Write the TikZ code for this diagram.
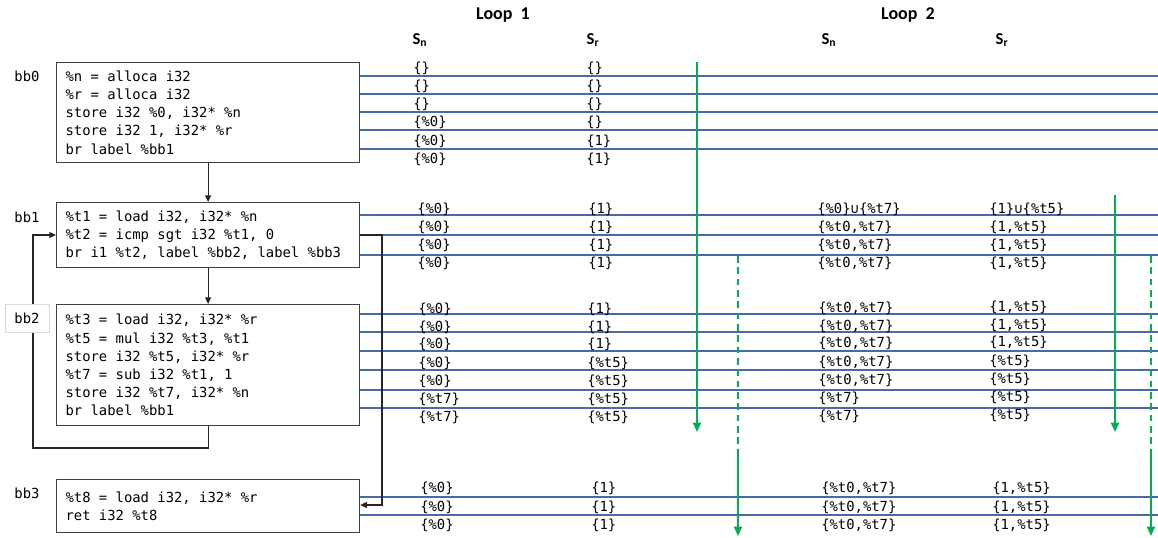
\documentclass[tikz,border=0pt]{standalone}
\usepackage{fontspec}
\setmainfont{Carlito}
\setsansfont{Carlito}
\newfontfamily\irmono{DejaVu Sans Mono}[WordSpace={1,0,0}]
\usetikzlibrary{positioning,arrows.meta,calc}
\definecolor{irblue}{RGB}{72,106,170}
\definecolor{irgreen}{RGB}{0,176,80}
\definecolor{irframe}{RGB}{60,64,72}
\newcommand{\ircode}{\irmono\fontsize{10.4}{13.6}\selectfont}
\newcommand{\irhead}{\sffamily\bfseries\fontsize{13.5}{15}\selectfont}
\newcommand{\irsub}{\sffamily\bfseries\fontsize{12.5}{14}\selectfont}
\newcommand{\irset}[1]{\{#1\}}
\tikzset{
  irbox/.style={draw=irframe,line width=0.9pt,anchor=north west,minimum width=227.25pt,
    text width=213.75pt,inner xsep=6.75pt,inner ysep=2pt,align=left,font=\ircode,
    execute at begin node={\spaceskip=0pt\xspaceskip=0pt\relax}},
  bblab/.style={font=\ircode,inner sep=1pt},
  setlab/.style={font=\ircode,anchor=west,inner sep=0pt},
  loophead/.style={font=\irhead,inner sep=1pt},
  colhead/.style={font=\irsub,inner sep=1pt},
  track/.style={draw=irblue,line width=0.8pt},
  flow/.style={draw=black!85,line width=0.8pt,-{Triangle[length=5pt,width=4.5pt]}},
  pass/.style={draw=irgreen,line width=1.3pt,-{Triangle[length=7pt,width=6pt]}},
  passdash/.style={draw=irgreen,line width=1.3pt,dash pattern=on 5pt off 3.5pt},
}

\begin{document}
\begin{tikzpicture}[x=0.75pt,y={(0pt,-0.75pt)}]
  \useasboundingbox (0,0) rectangle (1158,537);
  \def\xl{359}  % right edge of the blocks
  \def\xr{1158} % right edge of the tracks
  % --- tracks (one per program point) ---
  \foreach \y in {76,94,112,130,149, 215,235,255, 314,332,351,370,390,408, 497,515}{%
    \draw[track] (\xl,\y) -- (\xr,\y);}
  % --- basic blocks ---
  \node[irbox,minimum height=75pt] (bb0) at (56,62)
    {\%n = alloca i32\\ \%r = alloca i32\\ store i32 \%0, i32* \%n\\ store i32 1, i32* \%r\\ br label \%bb1};
  \node[irbox,minimum height=48.75pt] (bb1) at (56,202)
    {\%t1 = load i32, i32* \%n\\ \%t2 = icmp sgt i32 \%t1, 0\\ br i1 \%t2, label \%bb2, label \%bb3};
  \node[irbox,minimum height=90.75pt] (bb2) at (56,304)
    {\%t3 = load i32, i32* \%r\\ \%t5 = mul i32 \%t3, \%t1\\ store i32 \%t5, i32* \%r\\ \%t7 = sub i32 \%t1, 1\\ store i32 \%t7, i32* \%n\\ br label \%bb1};
  \node[irbox,minimum height=39.75pt] (bb3) at (56,479)
    {\%t8 = load i32, i32* \%r\\ ret i32 \%t8};
  % --- control flow ---
  \coordinate (t2) at (0,235);
  \coordinate (back) at (33,448);
  \coordinate (exit) at (382,505);
  \draw[flow] (bb0) -- (bb1);
  \draw[flow] (bb1) -- (bb2);
  \draw[flow] (bb2.south) |- (back) |- (bb1.west |- t2);
  \draw[flow] (bb1.east |- t2) -| (exit) -- (bb3.east |- exit);
  % --- block labels ---
  \node[bblab] (bb0lab) at (27,76) {bb0};
  \node[bblab] (bb1lab) at (27,217) {bb1};
  \node[bblab,draw=black!15,fill=white,minimum width=33pt,minimum height=21pt] (bb2lab) at (27,318) {bb2};
  \node[bblab] (bb3lab) at (27,493) {bb3};
  % --- headers ---
  \node[loophead] (loop1) at (503,15) {Loop~~1};
  \node[loophead] (loop2) at (908,15) {Loop~~2};
  \node[colhead] (sn1) at (420,40) {S\textsubscript{n}};
  \node[colhead] (sr1) at (593,40) {S\textsubscript{r}};
  \node[colhead] (sn2) at (829,40) {S\textsubscript{n}};
  \node[colhead] (sr2) at (1002,40) {S\textsubscript{r}};
  % --- Loop 1, bb0 rows ---
  \foreach \y/\na/\ra in {68/{}/{}, 86/{}/{}, 104/{}/{}, 122/\%0/{}, 141/\%0/1, 159/\%0/1}{%
    \node[setlab] (na\y) at (413,\y) {\irset{\na}};
    \node[setlab] (ra\y) at (586,\y) {\irset{\ra}};}
  % --- bb1 rows: loop 1 | loop 2 ---
  \foreach \y/\na/\ra/\nb/\rb in {
      209/\irset{\%0}/\irset{1}/{\irset{\%0}∪\irset{\%t7}}/{\irset{1}∪\irset{\%t5}},
      227/\irset{\%0}/\irset{1}/\irset{\%t0,\%t7}/\irset{1,\%t5},
      245/\irset{\%0}/\irset{1}/\irset{\%t0,\%t7}/\irset{1,\%t5},
      263/\irset{\%0}/\irset{1}/\irset{\%t0,\%t7}/\irset{1,\%t5}}{%
    \node[setlab] (na\y) at (417,\y) {\na};
    \node[setlab] (ra\y) at (588,\y) {\ra};
    \node[setlab] (nb\y) at (817,\y) {\nb};
    \node[setlab] (rb\y) at (989,\y) {\rb};}
  % --- bb2 rows: loop 1 | loop 2 ---
  \foreach \y/\na/\ra/\nb/\rb in {
      309/\irset{\%0}/\irset{1}/\irset{\%t0,\%t7}/\irset{1,\%t5},
      327/\irset{\%0}/\irset{1}/\irset{\%t0,\%t7}/\irset{1,\%t5},
      344/\irset{\%0}/\irset{1}/\irset{\%t0,\%t7}/\irset{1,\%t5},
      363/\irset{\%0}/\irset{\%t5}/\irset{\%t0,\%t7}/\irset{\%t5},
      381/\irset{\%0}/\irset{\%t5}/\irset{\%t0,\%t7}/\irset{\%t5},
      399/\irset{\%t7}/\irset{\%t5}/\irset{\%t7}/\irset{\%t5},
      417/\irset{\%t7}/\irset{\%t5}/\irset{\%t7}/\irset{\%t5}}{%
    \node[setlab] (na\y) at (418,\y) {\na};
    \node[setlab] (ra\y) at (587,\y) {\ra};
    \node[setlab] (nb\y) at (818,\y-1) {\nb};
    \node[setlab] (rb\y) at (989,\y-2) {\rb};}
  % --- bb3 rows: loop 1 | loop 2 ---
  \foreach \y in {488,507,525}{%
    \node[setlab] (na\y) at (420,\y) {\irset{\%0}};
    \node[setlab] (ra\y) at (591,\y) {\irset{1}};
    \node[setlab] (nb\y) at (821,\y) {\irset{\%t0,\%t7}};
    \node[setlab] (rb\y) at (992,\y) {\irset{1,\%t5}};}
  % --- passes over the blocks ---
  \foreach \n/\gx/\gy in {1/697/62, 2/1115/195}{%
    \coordinate (g\n top) at (\gx,\gy);
    \coordinate (g\n end) at (\gx,432);
    \draw[pass] (g\n top) -- (g\n end);}
  \foreach \n/\gx in {1/738, 2/1151}{%
    \coordinate (d\n top) at (\gx,256);
    \coordinate (d\n mid) at (\gx,452);
    \coordinate (d\n end) at (\gx,536);
    \draw[passdash] (d\n top) -- (d\n mid);
    \draw[pass] (d\n mid) -- (d\n end);}
\end{tikzpicture}
\end{document}
